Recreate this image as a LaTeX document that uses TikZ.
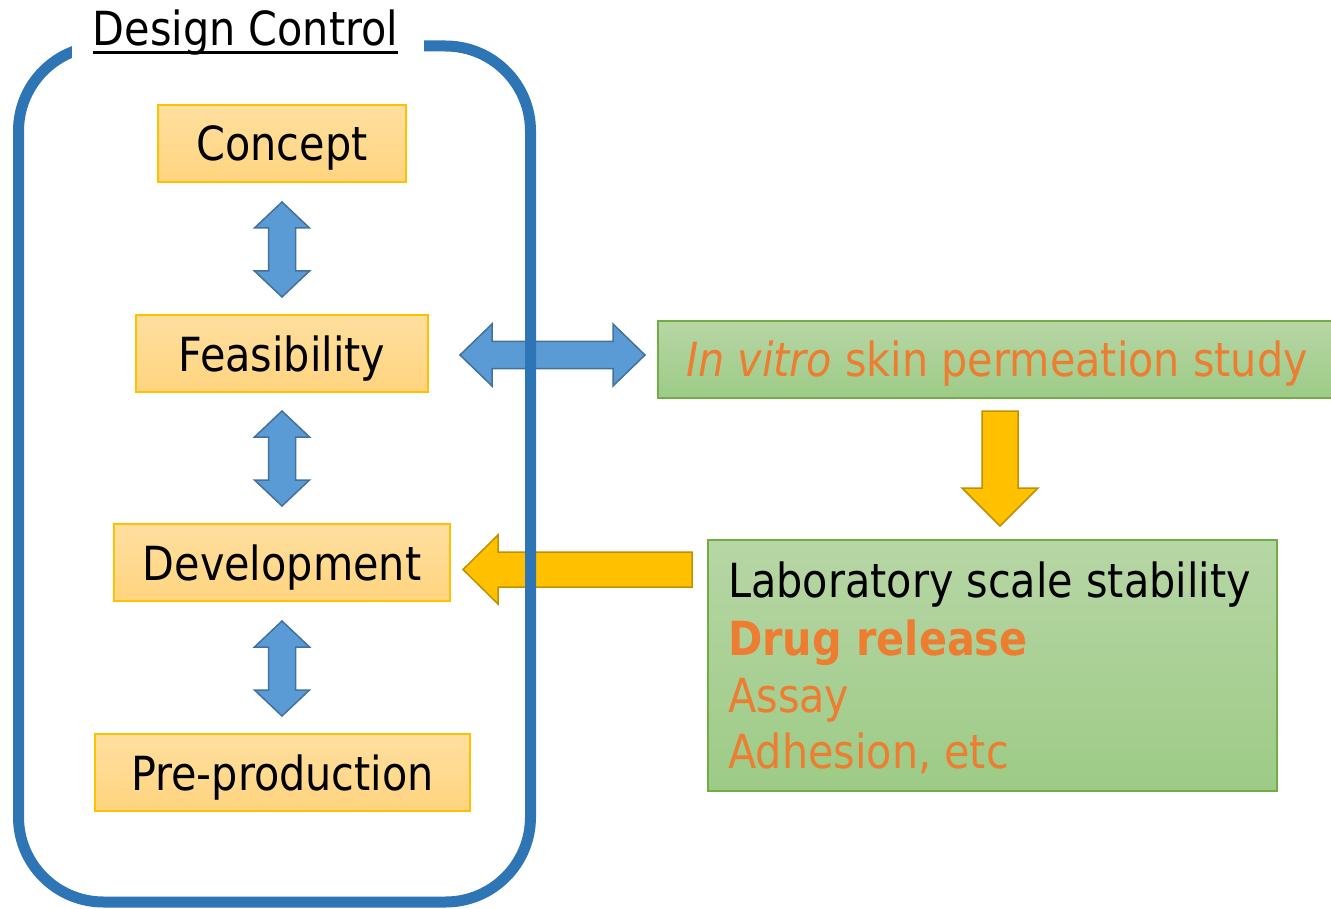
\documentclass[tikz,border=0pt]{standalone}
\usepackage{fontspec}
\setmainfont[FakeStretch=0.88]{DejaVu Sans}
\usetikzlibrary{calc}
\definecolor{frameblue}{HTML}{2E75B6}
\definecolor{arrowblue}{HTML}{5B9BD5}
\definecolor{arrowblueborder}{HTML}{41719C}
\definecolor{gold}{HTML}{FFC000}
\definecolor{goldborder}{HTML}{BF9000}
\definecolor{boxtop}{HTML}{FFDF9F}
\definecolor{boxbot}{HTML}{FFD47F}
\definecolor{boxborder}{HTML}{FFC000}
\definecolor{greentop}{HTML}{B7D6A5}
\definecolor{greenbot}{HTML}{9DCB86}
\definecolor{greenborder}{HTML}{70AD47}
\definecolor{txtorange}{HTML}{ED7D31}
\begin{document}
\begin{tikzpicture}[x=1pt,y=-1pt,
  bigfont/.style={font=\fontsize{47}{57}\selectfont},
  stage/.style={draw=boxborder, line width=1.2pt, top color=boxtop, bottom color=boxbot,
    minimum height=77pt, text height=35pt, text depth=0pt, inner sep=0pt, bigfont},
  greenbox/.style={draw=greenborder, line width=1.2pt, top color=greentop, bottom color=greenbot, inner sep=0pt},
  bluearrow/.style={fill=arrowblue, draw=arrowblueborder, line width=1.5pt, line join=miter},
  goldarrow/.style={fill=gold, draw=goldborder, line width=1.5pt, line join=miter},
  frame/.style={draw=frameblue, line width=11pt, rounded corners=85pt},
  labtext/.style={anchor=base west, inner sep=0pt, bigfont}
]
\useasboundingbox (0,0) rectangle (1331,909);

% stage boxes
\node[stage, minimum width=248pt] (concept) at (282,143.5) {Concept};
\node[stage, minimum width=292pt] (feas) at (282,353.5) {Feasibility};
\node[stage, minimum width=336pt] (dev) at (282,562.5) {Development};
\node[stage, minimum width=375pt] (pre) at (282.5,772.5) {Pre-production};

% vertical double arrows
\foreach \t in {202,411,621}{
  \draw[bluearrow] (282,\t) -- (309.5,\t+26) -- (295.5,\t+26) -- (295.5,\t+69) -- (309.5,\t+69)
    -- (282,\t+95) -- (254.5,\t+69) -- (268.5,\t+69) -- (268.5,\t+26) -- (254.5,\t+26) -- cycle;
}

% horizontal double arrow
\draw[bluearrow] (460,355) -- (492,324) -- (492,341.5) -- (613,341.5) -- (613,324) -- (645,355)
  -- (613,386) -- (613,368.5) -- (492,368.5) -- (492,386) -- cycle;

% in vitro box
\node[greenbox, minimum width=678pt, minimum height=77pt, text height=35pt, text depth=0pt, bigfont, text=txtorange]
  (vitro) at (997,359.5) {\textit{In vitro} skin permeation study};

% down gold arrow
\draw[goldarrow] (982,411) -- (1018,411) -- (1018,488) -- (1038,488) -- (1000,526) -- (962,488) -- (982,488) -- cycle;

% lab box
\node[greenbox, minimum width=569pt, minimum height=251pt] (lab) at (992.5,665.5) {};
\node[labtext] (lab1) at (728,597) {Laboratory scale stability};
\node[labtext, text=txtorange, font=\fontsize{47}{57}\selectfont\bfseries] (lab2) at (728,655) {Drug release};
\node[labtext, text=txtorange] (lab3) at (728,712) {Assay};
\node[labtext, text=txtorange] (lab4) at (728,768) {Adhesion, etc};

% left gold arrow
\draw[goldarrow] (463,569.5) -- (498,535) -- (498,552) -- (692,552) -- (692,587) -- (498,587) -- (498,604) -- cycle;

% frame
\draw[frame] (250,46) -- (18.5,46) -- (18.5,902) -- (530.5,902) -- (530.5,46) -- (250,46);
\fill[white] (72,30) rectangle (424,62);
\node[anchor=base, inner sep=0pt, bigfont] (title) at (245.5,46) {Design Control};
\draw[line width=2.5pt] ($(title.base west)+(0,6.5)$) -- ($(title.base east)+(0,6.5)$);
\end{tikzpicture}
\end{document}
